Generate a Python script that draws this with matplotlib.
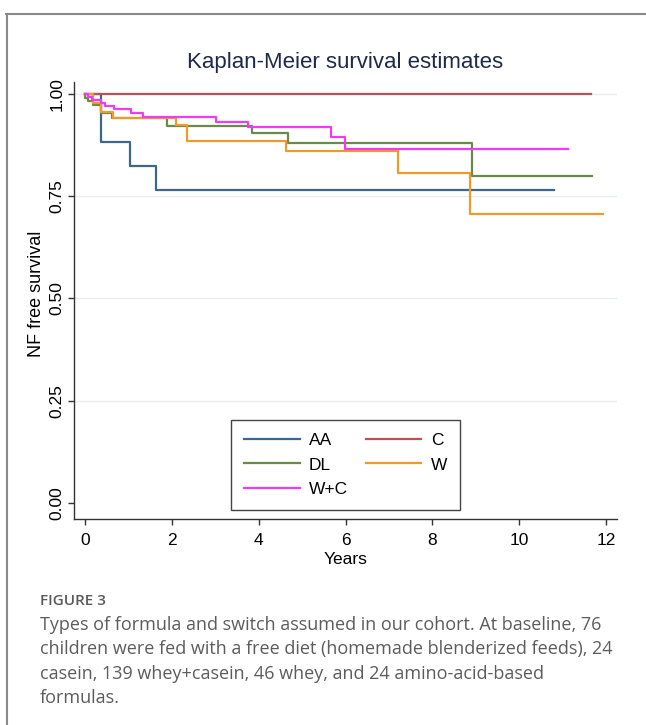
import matplotlib
matplotlib.use("Agg")
import matplotlib.pyplot as plt
from matplotlib.lines import Line2D

# Kaplan-Meier step data (years, survival)
aa_t = [0, 0.38, 1.05, 1.63, 10.8]
aa_s = [1.0, 0.883, 0.823, 0.765, 0.765]

c_t = [0, 11.65]
c_s = [1.0, 1.0]

dl_t = [0, 0.01, 0.07, 0.18, 0.38, 0.62, 1.89, 3.85, 4.67, 8.91, 11.67]
dl_s = [1.0, 0.99, 0.982, 0.972, 0.953, 0.94, 0.922, 0.904, 0.881, 0.799, 0.799]

w_t = [0, 0.18, 0.38, 0.64, 2.09, 2.36, 4.62, 7.2, 8.87, 11.92]
w_s = [1.0, 0.978, 0.956, 0.942, 0.924, 0.886, 0.861, 0.807, 0.706, 0.706]

wc_t = [0, 0.07, 0.16, 0.38, 0.47, 0.68, 1.07, 1.34, 3.03, 3.75, 5.67, 5.98, 11.13]
wc_s = [1.0, 0.993, 0.986, 0.978, 0.97, 0.962, 0.954, 0.944, 0.932, 0.918, 0.895, 0.866, 0.866]

groups = ["AA", "C", "DL", "W", "W+C"]
colors = ["#3d6688", "#b4535b", "#6a8a4a", "#ee9a2c", "#f03cf0"]

x_ticks = [0, 2, 4, 6, 8, 10, 12]
y_ticks = [0.0, 0.25, 0.5, 0.75, 1.0]
y_labels = ["0.00", "0.25", "0.50", "0.75", "1.00"]

caption_head = "FIGURE 3"
caption_lines = [
    "Types of formula and switch assumed in our cohort. At baseline, 76",
    "children were fed with a free diet (homemade blenderized feeds), 24",
    "casein, 139 whey+casein, 46 whey, and 24 amino-acid-based",
    "formulas.",
]

stata_font = ["Liberation Sans Narrow", "Liberation Sans", "DejaVu Sans"]
plt.rcParams["font.family"] = stata_font

fig = plt.figure(figsize=(6.46, 7.25), dpi=100)
ax = fig.add_axes([74 / 646, 1 - 519 / 725, 543 / 646, 437 / 725])

series = [(aa_t, aa_s), (c_t, c_s), (dl_t, dl_s), (w_t, w_s), (wc_t, wc_s)]
lines = {}
for (t, s), name, col in zip(series, groups, colors):
    lines[name], = ax.step(t, s, where="post", color=col, lw=1.6, label=name)

for yv in y_ticks[1:]:
    ax.axhline(yv, color="#e6ecf0", lw=1, zorder=0)

ax.set_xlim(-0.25, 12.25)
ax.set_ylim(-0.039, 1.029)
ax.set_xticks(x_ticks)
ax.set_yticks(y_ticks)
ax.set_yticklabels(y_labels, rotation=90, va="center")
ax.tick_params(axis="both", direction="out", length=4, width=1, color="#333333",
               labelsize=12.5, labelcolor="black")
ax.tick_params(axis="x", pad=6)
ax.tick_params(axis="y", pad=3)
for side in ["top", "right"]:
    ax.spines[side].set_visible(False)
for side in ["left", "bottom"]:
    ax.spines[side].set_color("#333333")
    ax.spines[side].set_linewidth(1)

ax.set_xlabel("Years", fontsize=12.5, labelpad=3)
ax.set_ylabel("NF free survival", fontsize=13)
ax.yaxis.set_label_coords(-0.054, 0.516)
ax.set_title("Kaplan-Meier survival estimates", fontsize=16, color="#1f2a48", pad=10)

# row-major order like the original legend: AA C / DL W / W+C
order = ["AA", "DL", "W+C", "C", "W"]
leg = ax.legend([lines[k] for k in order], order, ncol=2, loc="lower center",
                bbox_to_anchor=(0.5, 0.02), borderaxespad=0, fontsize=12.5,
                frameon=True, fancybox=False, edgecolor="#444444", framealpha=1,
                handlelength=3.2, handletextpad=0.55, columnspacing=1.0,
                labelspacing=0.55, borderpad=0.75)
leg.get_frame().set_linewidth(1)

# outer panel border (top and left edges)
fig.add_artist(Line2D([6 / 646, 1], [1 - 14 / 725, 1 - 14 / 725], color="#8a8a8a", lw=1.5))
fig.add_artist(Line2D([7 / 646, 7 / 646], [0, 1 - 14 / 725], color="#8a8a8a", lw=1.5))

cap_font = ["Open Sans", "DejaVu Sans"]
fig.text(40 / 646, 1 - 601 / 725, caption_head, fontsize=11, fontweight="semibold",
         color="#5a5a5a", family=cap_font, va="center")
for i, line in enumerate(caption_lines):
    fig.text(40 / 646, 1 - (625 + 24.3 * i) / 725, line, fontsize=13,
             color="#5c5c5c", family=cap_font, va="center")

fig.savefig("out.png", dpi=100)
